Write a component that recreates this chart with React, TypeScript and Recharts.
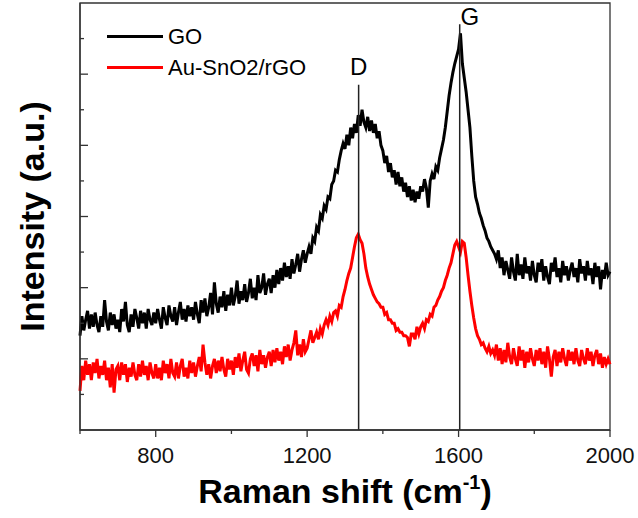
import React from 'react'
import {
  LineChart,
  Line,
  XAxis,
  YAxis,
  Legend,
  ReferenceLine,
  ReferenceDot,
  ReferenceArea,
} from 'recharts'

const FONT = '"Liberation Sans", Arial, sans-serif'

// Raman shift (cm-1)
const shifts = [
  600, 605, 610, 615, 620, 625, 630, 635, 640, 645, 650, 655, 660, 665, 670, 675, 680, 685, 690, 695,
  700, 705, 710, 715, 720, 725, 730, 735, 740, 745, 750, 755, 760, 765, 770, 775, 780, 785, 790, 795,
  800, 805, 810, 815, 820, 825, 830, 835, 840, 845, 850, 855, 860, 865, 870, 875, 880, 885, 890, 895,
  900, 905, 910, 915, 920, 925, 930, 935, 940, 945, 950, 955, 960, 965, 970, 975, 980, 985, 990, 995,
  1000, 1005, 1010, 1015, 1020, 1025, 1030, 1035, 1040, 1045, 1050, 1055, 1060, 1065, 1070, 1075, 1080, 1085, 1090, 1095,
  1100, 1105, 1110, 1115, 1120, 1125, 1130, 1135, 1140, 1145, 1150, 1155, 1160, 1165, 1170, 1175, 1180, 1185, 1190, 1195,
  1200, 1205, 1210, 1215, 1220, 1225, 1230, 1235, 1240, 1245, 1250, 1255, 1260, 1265, 1270, 1275, 1280, 1285, 1290, 1295,
  1300, 1305, 1310, 1315, 1320, 1325, 1330, 1335, 1340, 1345, 1350, 1355, 1360, 1365, 1370, 1375, 1380, 1385, 1390, 1395,
  1400, 1405, 1410, 1415, 1420, 1425, 1430, 1435, 1440, 1445, 1450, 1455, 1460, 1465, 1470, 1475, 1480, 1485, 1490, 1495,
  1500, 1505, 1510, 1515, 1520, 1525, 1530, 1535, 1540, 1545, 1550, 1555, 1560, 1565, 1570, 1575, 1580, 1585, 1590, 1595,
  1600, 1605, 1610, 1615, 1620, 1625, 1630, 1635, 1640, 1645, 1650, 1655, 1660, 1665, 1670, 1675, 1680, 1685, 1690, 1695,
  1700, 1705, 1710, 1715, 1720, 1725, 1730, 1735, 1740, 1745, 1750, 1755, 1760, 1765, 1770, 1775, 1780, 1785, 1790, 1795,
  1800, 1805, 1810, 1815, 1820, 1825, 1830, 1835, 1840, 1845, 1850, 1855, 1860, 1865, 1870, 1875, 1880, 1885, 1890, 1895,
  1900, 1905, 1910, 1915, 1920, 1925, 1930, 1935, 1940, 1945, 1950, 1955, 1960, 1965, 1970, 1975, 1980, 1985, 1990, 1995,
  2000,
]

// intensities, arbitrary units (curves offset as in the figure)
const goIntensity = [
  2.65, 3.2, 2.8, 3.1, 3.35, 2.85, 3.25, 2.9, 3.3, 2.95, 2.75, 3.2, 2.9, 3.65, 3.05, 2.8, 3.3, 2.95, 3.25, 2.85,
  3.1, 2.75, 3.4, 3.05, 3.6, 2.95, 2.75, 3.25, 2.9, 3.4, 3.15, 2.85, 3.35, 3.0, 3.3, 2.85, 3.4, 3.1, 2.95, 3.3,
  3.0, 3.4, 3.1, 2.85, 3.45, 3.15, 2.95, 3.5, 3.2, 3.05, 3.45, 2.95, 3.3, 3.6, 3.1, 3.4, 3.05, 3.5, 3.2, 3.45,
  3.1, 3.6, 3.25, 3.0, 3.65, 3.3, 3.7, 3.2, 3.45, 3.85, 3.25, 4.15, 3.55, 3.3, 3.75, 3.45, 3.9, 3.35, 3.8, 3.5,
  4.0, 3.5, 3.75, 4.2, 3.55, 3.9, 3.65, 4.1, 3.6, 3.85, 4.25, 3.7, 4.0, 3.65, 4.35, 3.85, 4.0, 4.4, 3.8, 4.1,
  4.25, 3.85, 4.35, 4.0, 4.5, 4.1, 4.55, 4.2, 4.7, 4.3, 4.6, 4.25, 4.8, 4.4, 4.65, 4.95, 4.45, 4.8, 5.05, 4.7,
  4.95, 5.15, 4.95, 5.4, 5.3, 5.7, 5.6, 6.05, 5.95, 6.3, 6.2, 6.55, 6.5, 6.9, 7.0, 7.3, 7.25, 7.6, 7.85, 8.05,
  7.9, 8.3, 8.0, 8.5, 8.2, 8.6, 8.35, 8.85, 8.55, 9.0, 8.65, 8.5, 8.8, 8.4, 8.7, 8.35, 8.6, 8.2, 8.4, 8.0,
  7.85, 7.5, 7.7, 7.25, 7.5, 7.1, 7.3, 6.9, 7.25, 6.85, 7.1, 6.7, 6.95, 6.55, 6.85, 6.45, 6.75, 6.4, 6.7, 6.5,
  6.85, 6.7, 7.05, 6.8, 6.25, 7.0, 7.2, 7.05, 7.4, 7.3, 7.65, 7.9, 8.15, 8.5, 8.95, 9.4, 9.75, 10.05, 10.3, 10.5,
  10.7, 11.15, 10.3, 9.9, 9.5, 9.0, 8.5, 7.7, 7.0, 6.55, 6.35, 6.1, 5.95, 5.75, 5.6, 5.4, 5.3, 5.15, 5.05, 4.95,
  4.8, 5.05, 4.55, 4.85, 4.35, 4.75, 4.5, 4.25, 4.85, 4.45, 4.2, 4.95, 4.35, 4.65, 4.25, 4.85, 4.4, 4.6, 4.2, 4.75,
  4.35, 4.15, 4.7, 4.45, 4.8, 4.2, 4.6, 4.3, 4.1, 4.7, 4.45, 4.85, 4.3, 4.55, 4.15, 4.75, 4.35, 4.6, 4.2, 4.5,
  4.7, 4.3, 4.55, 4.15, 4.8, 4.4, 4.6, 4.2, 4.75, 4.35, 4.55, 4.1, 4.7, 4.3, 4.6, 3.95, 4.5, 4.25, 4.7, 4.35,
  4.45,
]

const auSnO2Intensity = [
  1.1, 1.8, 1.4, 1.95, 1.55, 1.85, 1.4, 1.9, 1.6, 2.0, 1.45, 1.8, 1.55, 1.95, 1.4, 1.75, 1.2, 1.85, 1.05, 1.7,
  1.8, 1.4, 1.9, 1.55, 1.85, 1.35, 1.75, 1.5, 1.9, 1.55, 1.4, 1.85, 1.5, 1.95, 1.55, 1.8, 1.4, 1.9, 1.6, 1.45,
  1.85, 1.45, 1.75, 1.4, 1.95, 1.6, 1.85, 1.45, 2.0, 1.6, 1.5, 1.9, 1.45, 1.8, 2.0, 1.5, 1.75, 1.45, 1.95, 1.6,
  1.9, 1.5, 1.8, 2.05, 1.65, 2.4, 1.9, 1.55, 1.85, 1.45, 1.8, 2.0, 1.6, 1.95, 1.65, 2.05, 1.7, 1.5, 2.0, 1.7,
  1.95, 1.55, 2.05, 1.75, 2.15, 1.65, 1.95, 2.2, 1.7, 1.6, 2.0, 2.15, 1.8, 2.1, 1.65, 2.25, 1.85, 2.1, 1.75, 2.05,
  2.2, 1.8, 2.25, 1.9, 2.3, 1.95, 2.2, 1.85, 2.35, 2.05, 2.4, 1.95, 2.25, 2.45, 2.8, 2.1, 2.4, 2.05, 2.55, 2.2,
  2.3, 2.55, 2.8, 2.45, 2.6, 2.75, 2.55, 2.85, 2.7, 2.95, 3.1, 2.95, 3.2, 3.05, 3.3, 3.35, 3.2, 3.5, 3.45, 3.75,
  3.95, 4.2, 4.4, 4.55, 4.85, 5.15, 5.4, 5.5, 5.35, 5.25, 4.95, 4.55, 4.3, 4.1, 3.95, 3.8, 3.7, 3.6, 3.55, 3.45,
  3.45, 3.25, 3.3, 3.1, 3.1, 3.0, 3.0, 2.8, 2.85, 2.75, 2.75, 2.65, 2.65, 2.6, 2.35, 2.7, 2.7, 2.55, 2.9, 2.7,
  2.9, 3.0, 2.85, 3.1, 3.05, 3.25, 3.2, 3.45, 3.5, 3.65, 3.75, 3.9, 4.0, 4.2, 4.35, 4.55, 4.7, 4.95, 5.2, 5.3,
  5.15, 5.0, 5.3, 5.25, 4.85, 4.35, 3.9, 3.5, 3.15, 2.85, 2.65, 2.55, 2.4, 2.45, 2.3, 2.2, 2.35, 2.15, 2.25, 2.1,
  2.4, 1.95, 2.3, 1.85, 2.25, 1.9, 2.45, 2.05, 1.85, 2.3, 2.0, 1.8, 2.35, 1.95, 2.25, 1.75, 2.2, 1.9, 2.3, 2.0,
  1.8, 2.25, 1.95, 2.3, 1.85, 2.2, 1.75, 2.35, 2.0, 1.5, 2.05, 2.25, 1.8, 2.2, 1.9, 2.3, 2.0, 1.8, 2.25, 1.95,
  2.2, 1.85, 2.3, 1.95, 1.8, 2.25, 2.0, 1.85, 2.3, 1.95, 2.2, 1.8, 2.1, 2.25, 1.85, 2.15, 1.75, 2.05, 1.85, 2.0,
  1.85,
]

const xTicks = [600, 800, 1000, 1200, 1400, 1600, 1800, 2000]
const xLabelled = [800, 1200, 1600, 2000]
const yTicks = [1, 2, 3, 4, 5, 6, 7, 8, 9, 10, 11]

// peak positions and marker tops
const peakD = 1336
const peakG = 1603
const peakDTop = 9.7
const peakGTop = 11.4

const data = shifts.map((s, i) => ({
  shift: s,
  go: goIntensity[i],
  rgo: auSnO2Intensity[i],
}))

const XTick = (props: any) => {
  const { x, y, payload } = props
  const major = xLabelled.includes(payload.value)
  return (
    <g>
      <line x1={x} y1={y} x2={x} y2={y + (major ? 7 : 4)} stroke="#333" strokeWidth={1.3} />
      {major && (
        <text x={x} y={y + 33} textAnchor="middle" fontSize={22} fontFamily={FONT} fill="#111">
          {payload.value}
        </text>
      )}
    </g>
  )
}

const YTick = (props: any) => {
  const { x, y, payload } = props
  const long = payload.value % 2 === 0
  return <line x1={x} y1={y} x2={x + (long ? 8 : 4)} y2={y} stroke="#333" strokeWidth={1.3} />
}

const XTitle = (props: any) => {
  const vb = props.viewBox
  const cx = vb ? vb.x + vb.width / 2 : 345
  const y = vb ? vb.y + 73 : 503
  return (
    <text x={cx} y={y} textAnchor="middle" fontSize={34} fontWeight="bold" fontFamily={FONT} fill="#000">
      Raman shift (cm
      <tspan fontSize={20} dy={-14}>-1</tspan>
      <tspan dy={14}>)</tspan>
    </text>
  )
}

const YTitle = (props: any) => {
  const vb = props.viewBox
  const cy = vb ? vb.y + vb.height / 2 : 216
  return (
    <text
      x={32}
      y={cy}
      transform={`rotate(-90, 32, ${cy})`}
      textAnchor="middle"
      dominantBaseline="central"
      fontSize={34}
      fontWeight="bold"
      fontFamily={FONT}
      fill="#000"
    >
      Intensity (a.u.)
    </text>
  )
}

const legendItems = [
  { name: 'GO', color: '#000000' },
  { name: 'Au-SnO2/rGO', color: '#ff0000' },
]

const LegendBox = () => (
  <div style={{ fontFamily: FONT, fontSize: 22, color: '#000' }}>
    {legendItems.map((it) => (
      <div key={it.name} style={{ display: 'flex', alignItems: 'center', height: 31 }}>
        <span style={{ display: 'inline-block', width: 56, height: 3, background: it.color, marginRight: 5 }} />
        <span>{it.name}</span>
      </div>
    ))}
  </div>
)

export default function App() {
  return (
    <div style={{ position: 'absolute', left: 0, top: 0, width: 638, height: 518, background: '#fff' }}>
      <LineChart width={638} height={518} data={data} margin={{ top: 3, right: 28, left: 0, bottom: 0 }}>
        <XAxis
          dataKey="shift"
          type="number"
          domain={[600, 2000]}
          ticks={xTicks}
          interval={0}
          height={88}
          tickSize={0}
          tickMargin={0}
          tickLine={false}
          tick={XTick}
          axisLine={{ stroke: '#333', strokeWidth: 1.3 }}
          label={XTitle}
        />
        <YAxis
          type="number"
          domain={[0, 12]}
          ticks={yTicks}
          interval={0}
          width={80}
          tickSize={0}
          tickMargin={0}
          tickLine={false}
          tick={YTick}
          axisLine={{ stroke: '#333', strokeWidth: 1.3 }}
          label={YTitle}
        />
        <ReferenceArea x1={600} x2={2000} y1={0} y2={12} fill="none" stroke="#333" strokeWidth={1.3} />
        <Legend
          layout="horizontal"
          verticalAlign="middle"
          content={<LegendBox />}
          wrapperStyle={{ top: 21, left: 107, width: 'auto' }}
        />
        <Line
          dataKey="go"
          name="GO"
          stroke="#000000"
          strokeWidth={3}
          dot={false}
          type="linear"
          isAnimationActive={false}
        />
        <Line
          dataKey="rgo"
          name="Au-SnO2/rGO"
          stroke="#ff0000"
          strokeWidth={3}
          dot={false}
          type="linear"
          isAnimationActive={false}
        />
        <ReferenceLine
          segment={[{ x: peakD, y: 0 }, { x: peakD, y: peakDTop }]}
          stroke="#222"
          strokeWidth={1.5}
        />
        <ReferenceLine
          segment={[{ x: peakG, y: 0 }, { x: peakG, y: peakGTop }]}
          stroke="#222"
          strokeWidth={1.5}
        />
        <ReferenceDot
          x={peakD}
          y={10.23}
          r={0}
          fill="none"
          stroke="none"
          label={{ value: 'D', position: 'center', fontSize: 24, fontFamily: FONT, fill: '#000' }}
        />
        <ReferenceDot
          x={1630}
          y={11.63}
          r={0}
          fill="none"
          stroke="none"
          label={{ value: 'G', position: 'center', fontSize: 24, fontFamily: FONT, fill: '#000' }}
        />
      </LineChart>
    </div>
  )
}
